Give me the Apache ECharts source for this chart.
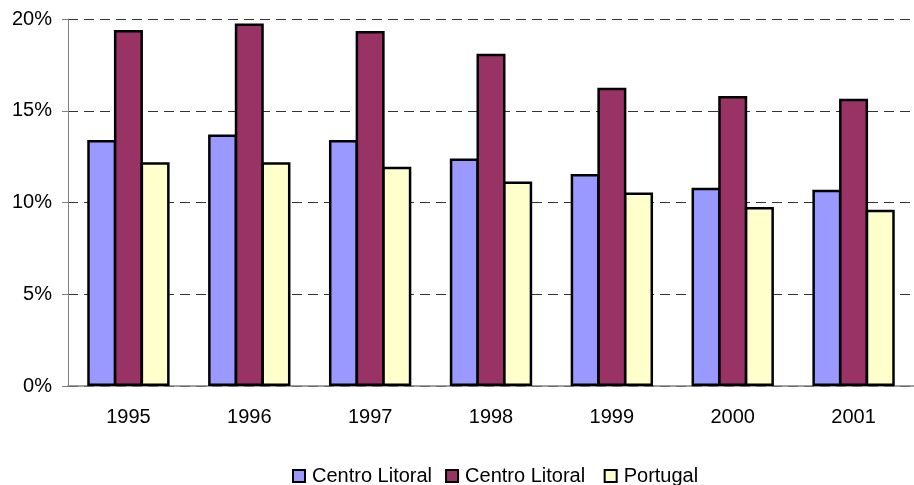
<!DOCTYPE html>
<html>
<head>
<meta charset="utf-8">
<script src="https://cdn.jsdelivr.net/npm/echarts@6/dist/echarts.min.js"></script>
<style>
    html, body { margin: 0; padding: 0; background: #fff; }
    #chart { width: 914px; height: 485px; }
</style>
</head>
<body>
<div id="chart"></div>
<script>
// anos e valores (%)
var years = ['1995', '1996', '1997', '1998', '1999', '2000', '2001']
var litoralA = [13.4, 13.7, 13.4, 12.4, 11.55, 10.8, 10.7]
var litoralB = [19.4, 19.75, 19.35, 18.1, 16.25, 15.8, 15.65]
var portugal = [12.2, 12.2, 11.95, 11.15, 10.55, 9.75, 9.6]

var font = 'Liberation Sans, Arial, sans-serif'

function bar(name, color, data) {
    return {
        name: name,
        type: 'bar',
        data: data,
        barWidth: 29,
        barGap: '-8%',
        itemStyle: { color: color, borderColor: '#000', borderWidth: 2.5 }
    }
}

var chart = echarts.init(document.getElementById('chart'))
chart.setOption({
    animation: false,
    textStyle: { fontFamily: font },
    grid: { left: 68, right: -7, top: 19, bottom: 99, containLabel: false },
    legend: {
        bottom: -6,
        left: 287,
        icon: 'rect',
        itemWidth: 12,
        itemHeight: 12,
        itemGap: 13,
        itemStyle: { borderColor: '#000', borderWidth: 2 },
        textStyle: { fontSize: 20, color: '#000', fontFamily: font, padding: [0, 0, 0, 2] },
        data: ['Centro Litoral', 'Centro Litoral ', 'Portugal']
    },
    xAxis: {
        type: 'category',
        data: years,
        axisLine: { lineStyle: { color: '#808080', width: 1.5 } },
        axisTick: { length: 6, lineStyle: { color: '#808080' } },
        axisLabel: { fontSize: 20, color: '#000', margin: 21 }
    },
    yAxis: {
        type: 'value',
        min: 0,
        max: 20,
        interval: 5,
        axisLine: { show: true, lineStyle: { color: '#808080' } },
        axisTick: { show: true, length: 6, lineStyle: { color: '#808080' } },
        axisLabel: { fontSize: 20, color: '#000', margin: 16, formatter: '{value}%' },
        splitLine: { lineStyle: { color: '#333', type: [10, 6], width: 1 } }
    },
    series: [
        bar('Centro Litoral', '#9999FF', litoralA),
        bar('Centro Litoral ', '#993366', litoralB),
        bar('Portugal', '#FFFFCC', portugal)
    ]
})
</script>
</body>
</html>
